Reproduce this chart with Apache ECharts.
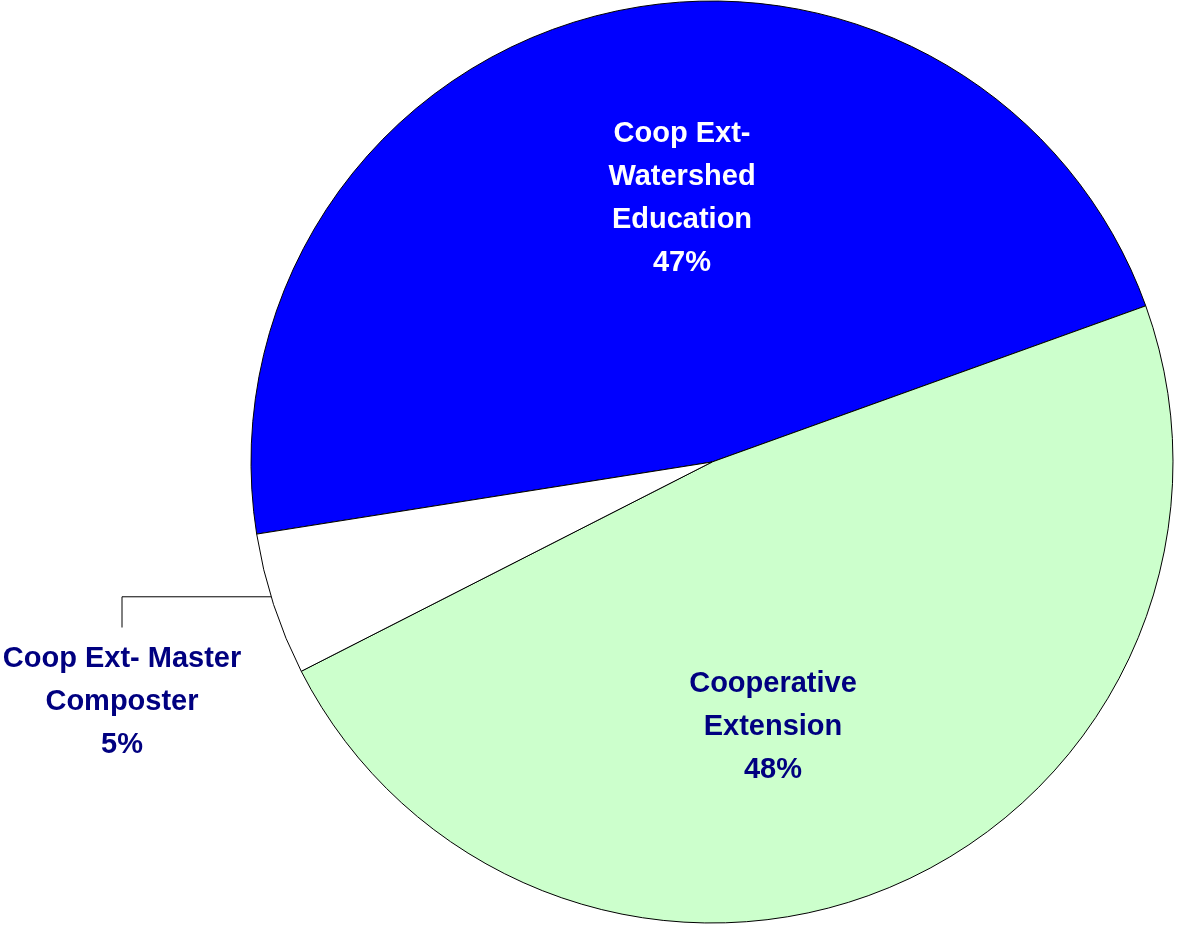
<!DOCTYPE html>
<html>
<head>
<meta charset="utf-8">
<style>
  html, body { margin: 0; padding: 0; background: #ffffff; }
  #chart { width: 1177px; height: 925px; }
</style>
<script src="https://cdn.jsdelivr.net/npm/echarts@6/dist/echarts.min.js"></script>
</head>
<body>
<div id="chart"></div>
<script>
// Budget shares by program
var categories = ['Coop Ext-\nWatershed\nEducation', 'Cooperative\nExtension', 'Coop Ext- Master\nComposter'];
var shares = [47, 48, 5];
var sliceColors = ['#0000ff', '#ccffcc', '#ffffff'];
var labelColors = ['#ffffff', '#000080', '#000080'];

// Pie geometry (pixels)
var CX = 712, CY = 462, R = 461;

// Label anchors, as offsets from the pie centre
var labelOffsets = [[-30, -264], [61, 265], [-590, 240]];

function polar(deg, r) {
  var a = deg * Math.PI / 180;
  return [CX + r * Math.cos(a), CY - r * Math.sin(a)];
}

var chart = echarts.init(document.getElementById('chart'), null, { renderer: 'canvas' });

var data = categories.map(function (name, i) {
  return {
    name: name,
    value: shares[i],
    itemStyle: { color: sliceColors[i] },
    label: {
      color: labelColors[i],
      position: i === 2 ? 'outside' : 'inside'
    },
    labelLine: { show: i === 2 }
  };
});

chart.setOption({
  animation: false,
  backgroundColor: '#ffffff',
  series: [{
    type: 'pie',
    center: [CX, CY],
    radius: R,
    startAngle: 189,
    clockwise: true,
    avoidLabelOverlap: false,
    itemStyle: { borderColor: '#000000', borderWidth: 1 },
    emphasis: { disabled: true },
    label: {
      formatter: function (p) { return p.name + '\n' + p.percent.toFixed(0) + '%'; },
      fontFamily: '"Liberation Sans", Arial, sans-serif',
      fontWeight: 'bold',
      fontSize: 29,
      lineHeight: 43,
      align: 'center'
    },
    labelLine: {
      show: true,
      length: 10,
      length2: 10,
      smooth: false,
      lineStyle: { color: '#000000', width: 1 }
    },
    labelLayout: function (params) {
      var off = labelOffsets[params.dataIndex];
      var x = CX + off[0], y = CY + off[1];
      var out = { x: x, y: y, align: 'center', verticalAlign: 'middle' };
      if (params.dataIndex === 2) {
        var start = polar(197, R);
        var top = y - params.labelRect.height / 2 - 10;
        out.labelLinePoints = [start, [x, start[1]], [x, top]];
      }
      return out;
    },
    data: data
  }]
});
</script>
</body>
</html>
